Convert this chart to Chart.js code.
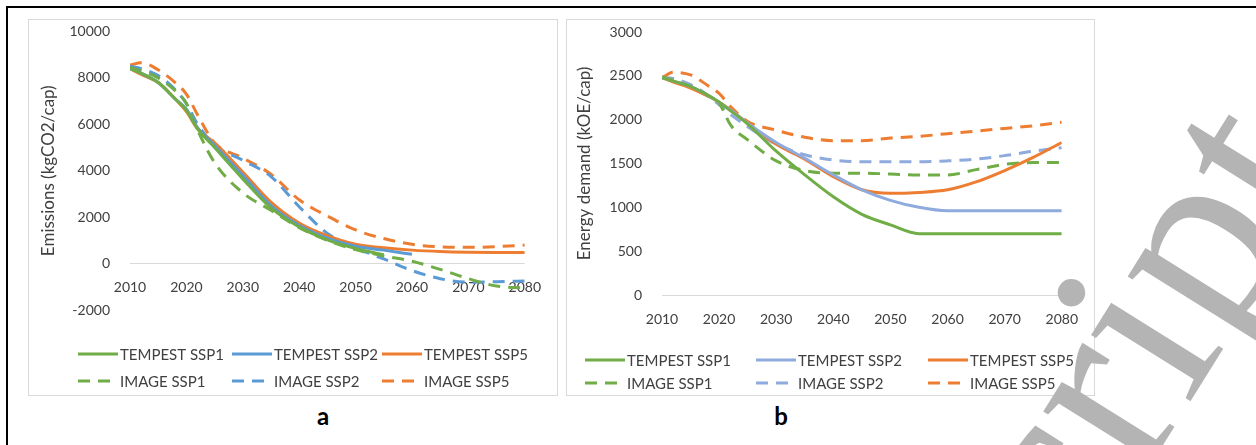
<!DOCTYPE html>
<html>
<head>
<meta charset="utf-8">
<script src="https://cdn.jsdelivr.net/npm/chart.js@4.4.0/dist/chart.umd.min.js"></script>
<style>
  html, body { margin: 0; padding: 0; background: #fff; }
  body { width: 1256px; height: 445px; position: relative; overflow: hidden; font-family: Lato, sans-serif; }
  .frame { position: absolute; left: 6px; top: 6px; width: 1300px; height: 500px; border-top: 2px solid #000; border-left: 2px solid #000; }
  .panel { position: absolute; top: 19px; height: 375px; border: 1px solid #d9d9d9; background: #fff; }
  #panelA { left: 28px; width: 528px; }
  #panelB { left: 566px; width: 527px; }
  .tag { position: absolute; top: 415px; transform: translate(-50%, -50%); font: bold 24px Lato, sans-serif; color: #000; }
  #watermark { position: absolute; left: 0; top: 0; pointer-events: none; }
</style>
</head>
<body>
<div class="frame"></div>
<div class="panel" id="panelA"><canvas id="chartA" width="528" height="375"></canvas></div>
<div class="panel" id="panelB"><canvas id="chartB" width="527" height="375"></canvas></div>
<div class="tag" style="left:323px">a</div>
<div class="tag" style="left:781px">b</div>
<canvas id="watermark" width="1256" height="445"></canvas>

<script>
// years shared by all series
const years = [2010, 2012, 2015, 2018, 2020, 2022, 2025, 2030, 2035, 2040, 2045, 2050, 2055, 2060, 2065, 2070, 2075, 2080];
const yearTicks = [2010, 2020, 2030, 2040, 2050, 2060, 2070, 2080];

// panel a - emissions (kgCO2/cap)
const emissionTicks = [-2000, 0, 2000, 4000, 6000, 8000, 10000];
const emTempestSsp1 = [8400, 8200, 7800, 7100, 6600, 5800, 5000, 3650, 2400, 1580, 1020, 650, 380, null, null, null, null, null];
const emTempestSsp2 = [8400, 8200, 7800, 7100, 6650, 5850, 5100, 3800, 2500, 1650, 1100, 750, 580, 400, null, null, null, null];
const emTempestSsp5 = [8400, 8150, 7800, 7100, 6550, 5800, 5200, 3950, 2650, 1750, 1200, 830, 680, 580, 520, 490, 480, 480];
const emImageSsp1 = [8450, 8300, 8000, 7450, 6900, 5750, 4350, 3050, 2300, 1550, 1000, 600, 330, 100, -250, -650, -970, -1050];
const emImageSsp2 = [8500, 8400, 8100, 7500, 6900, 6000, 5100, 4450, 3750, 2450, 1300, 680, 200, -300, -650, -800, -780, -750];
const emImageSsp5 = [8550, 8650, 8350, 7800, 7300, 6400, 5200, 4550, 3850, 2750, 2050, 1450, 1080, 830, 720, 700, 730, 800];

// panel b - energy demand (kOE/cap)
const energyTicks = [0, 500, 1000, 1500, 2000, 2500, 3000];
const enTempestSsp1 = [2480, 2440, 2380, 2280, 2200, 2100, 1950, 1640, 1370, 1120, 920, 800, 700, 700, 700, 700, 700, 700];
const enTempestSsp2 = [2480, 2440, 2380, 2280, 2200, 2110, 1960, 1740, 1560, 1370, 1200, 1080, 1000, 960, 960, 960, 960, 960];
const enTempestSsp5 = [2480, 2430, 2360, 2270, 2200, 2110, 1960, 1720, 1550, 1350, 1200, 1160, 1170, 1200, 1290, 1420, 1570, 1740];
const enImageSsp1 = [2490, 2450, 2370, 2270, 2190, 1940, 1770, 1530, 1420, 1390, 1390, 1380, 1370, 1370, 1430, 1490, 1510, 1510];
const enImageSsp2 = [2480, 2470, 2400, 2280, 2170, 2060, 1920, 1720, 1600, 1540, 1520, 1520, 1520, 1530, 1550, 1590, 1640, 1680];
const enImageSsp5 = [2480, 2540, 2510, 2390, 2300, 2150, 1980, 1880, 1800, 1760, 1760, 1790, 1810, 1840, 1870, 1900, 1930, 1970];

const green = '#70AD47';
const orange = '#ED7D31';
const blueA = '#5B9BD5';
const blueB = '#8FAADC';
const textColor = '#404040';
const dash = [12, 8];

function lineSet(label, vals, color, dashed) {
  return {
    label: label,
    data: years.map((x, i) => ({ x: x, y: vals[i] })).filter(p => p.y !== null),
    borderColor: color,
    backgroundColor: color,
    borderWidth: 3,
    borderDash: dashed ? dash : [],
    pointRadius: 0,
    cubicInterpolationMode: 'monotone',
    fill: false
  };
}

// legend in a 3 x 2 grid, like the Excel one
const gridLegend = {
  id: 'gridLegend',
  afterDraw(chart, args, opts) {
    const ctx = chart.ctx;
    ctx.save();
    ctx.font = '15px Lato';
    ctx.textBaseline = 'middle';
    chart.data.datasets.forEach((ds, i) => {
      const x = opts.cols[i % 3];
      const y = opts.rows[Math.floor(i / 3)];
      ctx.strokeStyle = ds.borderColor;
      ctx.lineWidth = 3;
      ctx.setLineDash(ds.borderDash || []);
      ctx.beginPath();
      ctx.moveTo(x, y);
      ctx.lineTo(x + 40, y);
      ctx.stroke();
      ctx.setLineDash([]);
      ctx.fillStyle = textColor;
      ctx.fillText(ds.label, x + 42, y + 1);
    });
    ctx.restore();
  }
};

function makeOptions(yTicks, yTitle, axisWidth, titlePad, padding, legendCols, legendRows) {
  return {
    responsive: false,
    animation: false,
    layout: { padding: padding },
    plugins: {
      legend: { display: false },
      tooltip: { enabled: false },
      gridLegend: { cols: legendCols, rows: legendRows }
    },
    scales: {
      x: {
        type: 'linear',
        min: 2010,
        max: 2080,
        position: { y: 0 },
        afterBuildTicks: s => { s.ticks = yearTicks.map(v => ({ value: v })); },
        grid: { display: false, drawTicks: false },
        border: { display: false },
        ticks: { padding: 16, color: textColor, font: { family: 'Lato', size: 14 }, maxRotation: 0, autoSkip: false, callback: v => String(v) }
      },
      y: {
        min: yTicks[0],
        max: yTicks[yTicks.length - 1],
        afterBuildTicks: s => { s.ticks = yTicks.map(v => ({ value: v })); },
        afterFit: s => { s.width = axisWidth; s.paddingTop = 0; s.paddingBottom = 0; },
        grid: { color: c => (c.tick && c.tick.value === 0) ? '#D9D9D9' : 'rgba(0,0,0,0)', drawTicks: false, lineWidth: 1 },
        border: { display: false },
        ticks: { padding: 20, color: textColor, font: { family: 'Lato', size: 14 }, callback: v => String(v) },
        title: { display: true, text: yTitle, color: textColor, font: { family: 'Lato', size: 17 }, padding: { top: titlePad, bottom: 0 } }
      }
    }
  };
}

new Chart(document.getElementById('chartA'), {
  type: 'line',
  data: {
    datasets: [
      lineSet('TEMPEST SSP1', emTempestSsp1, green, false),
      lineSet('TEMPEST SSP2', emTempestSsp2, blueA, false),
      lineSet('TEMPEST SSP5', emTempestSsp5, orange, false),
      lineSet('IMAGE SSP1', emImageSsp1, green, true),
      lineSet('IMAGE SSP2', emImageSsp2, blueA, true),
      lineSet('IMAGE SSP5', emImageSsp5, orange, true)
    ]
  },
  options: makeOptions(emissionTicks, 'Emissions (kgCO2/cap)', 101, 9, { top: 11.5, right: 23, bottom: 85, left: 0 }, [49, 203, 353], [334, 361]),
  plugins: [gridLegend]
});

new Chart(document.getElementById('chartB'), {
  type: 'line',
  data: {
    datasets: [
      lineSet('TEMPEST SSP1', enTempestSsp1, green, false),
      lineSet('TEMPEST SSP2', enTempestSsp2, blueB, false),
      lineSet('TEMPEST SSP5', enTempestSsp5, orange, false),
      lineSet('IMAGE SSP1', enImageSsp1, green, true),
      lineSet('IMAGE SSP2', enImageSsp2, blueB, true),
      lineSet('IMAGE SSP5', enImageSsp5, orange, true)
    ]
  },
  options: makeOptions(energyTicks, 'Energy demand (kOE/cap)', 95, 7, { top: 12, right: 25, bottom: 100, left: 0 }, [18, 189, 361], [340, 363]),
  plugins: [gridLegend]
});

// page watermark, only its tail is inside the picture
const wm = document.getElementById('watermark').getContext('2d');
wm.save();
wm.translate(1333, 173);
wm.rotate(-58 * Math.PI / 180);
wm.font = '260px "Liberation Serif"';
wm.textAlign = 'right';
wm.textBaseline = 'alphabetic';
wm.fillStyle = '#B4B4B4';
wm.fillText('Accepted Manuscript', 0, 0);
wm.restore();
</script>
</body>
</html>
